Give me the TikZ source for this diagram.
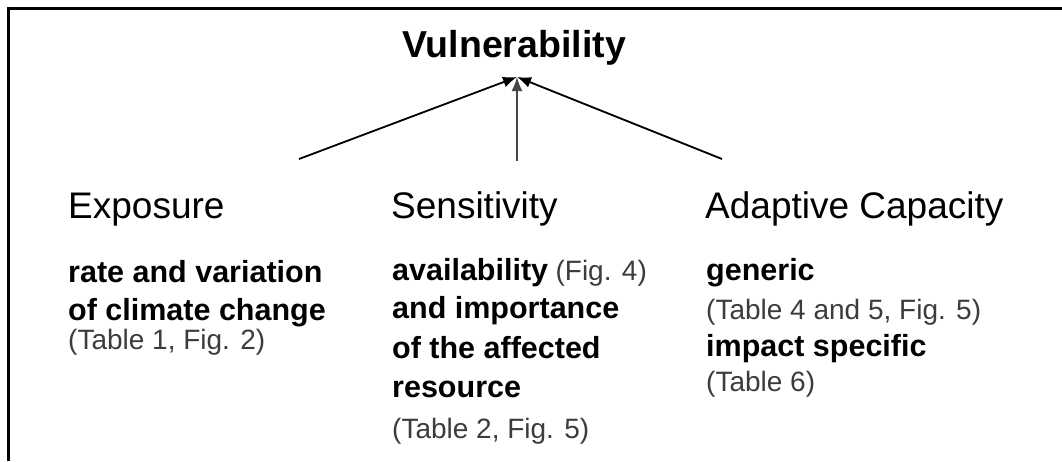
\documentclass[tikz,border=0pt]{standalone}
\usepackage{fontspec}
\setmainfont{Liberation Sans}
\usetikzlibrary{arrows.meta}
\usetikzlibrary{positioning}
\definecolor{reftext}{RGB}{60, 60, 60}
\definecolor{midline}{RGB}{70, 70, 70}

\begin{document}
\begin{tikzpicture}[x=1pt, y=-1pt,
    head/.style={anchor=base west, inner sep=0pt, font=\fontsize{37}{42}\selectfont},
    body/.style={anchor=base west, inner sep=0pt, font=\fontsize{30.5}{38}\selectfont\bfseries},
    note/.style={anchor=base west, inner sep=0pt, text=reftext, font=\fontsize{28}{38}\selectfont},
    link/.style={line width=1.8pt, -{Latex[length=14pt, width=11pt]}}]
            \useasboundingbox (0, 0) rectangle (1062, 461);
            % Frame
            \draw[line width=3pt] (1062, 8.5) -- (8.5, 8.5) -- (8.5, 461);
            % Top
            \node[anchor=base, inner sep=0pt, font=\fontsize{37.5}{42}\selectfont\bfseries] (vuln) at (514, 57) {Vulnerability};
            \coordinate (tip) at (517, 77);
            % Three headings
            \node[head] (expo) at (68, 218) {Exposure};
            \node[head] (sens) at (391, 218) {Sensitivity};
            \node[head] (adap) at (705, 218) {Adaptive Capacity};
            % Line ends
            \coordinate (expotail) at (299, 159);
            \coordinate (senstail) at (517, 161);
            \coordinate (adaptail) at (722, 159);
            \draw[link]                (expotail) -- (tip);
            \draw[link, color=midline] (senstail) -- (tip);
            \draw[link]                (adaptail) -- (tip);
            % Exposure details
            \node[body] (expo1) at (68, 282) {rate and variation};
            \node[body] (expo2) at (68, 320) {of climate change};
            \node[note] (expo3) at (68, 349) {(Table 1, Fig. 2)};
            % Sensitivity details
            \node[body] (sens1) at (392, 280) {availability};
            \node[note, right=7pt of sens1.base east, anchor=base west] (sens1b) {(Fig. 4)};
            \node[body] (sens2) at (392, 318) {and importance};
            \node[body] (sens3) at (392, 358) {of the affected};
            \node[body] (sens4) at (392, 397) {resource};
            \node[note] (sens5) at (392, 438) {(Table 2, Fig. 5)};
            % Adaptive Capacity details
            \node[body] (adap1) at (706, 280) {generic};
            \node[note] (adap2) at (706, 319) {(Table 4 and 5, Fig. 5)};
            \node[body] (adap3) at (706, 356) {impact specific};
            \node[note] (adap4) at (706, 391) {(Table 6)};
\end{tikzpicture}
\end{document}
